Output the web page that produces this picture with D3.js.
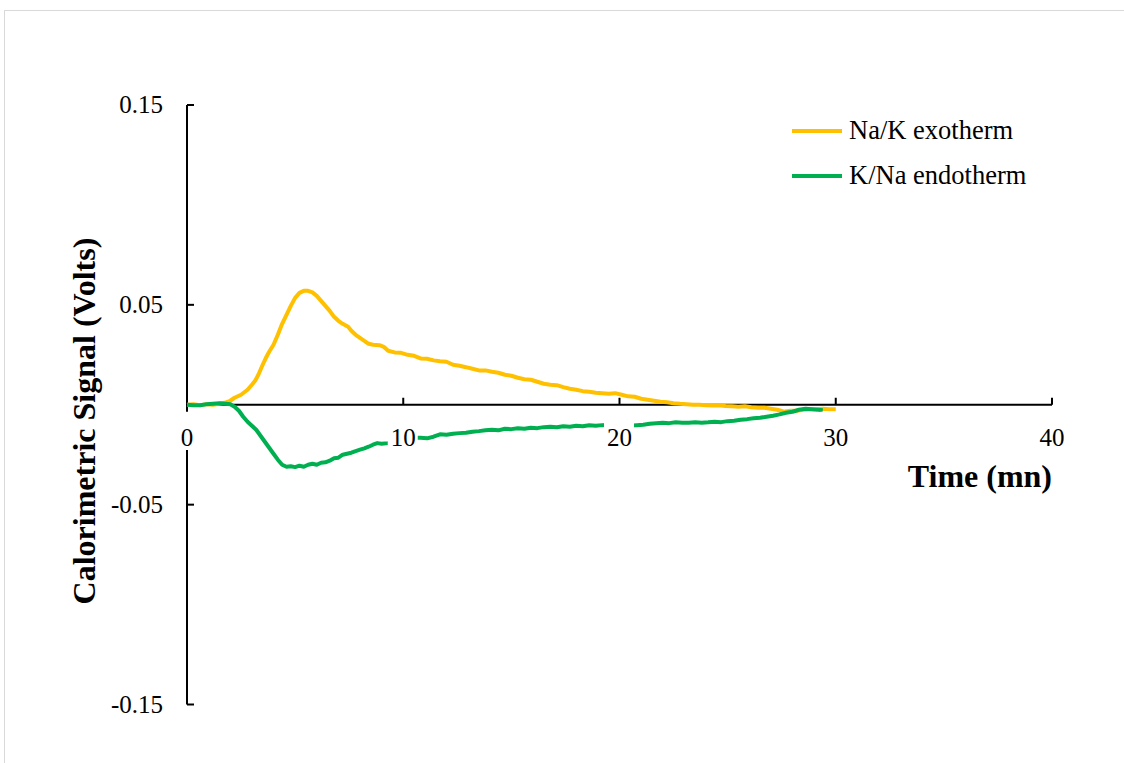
<!DOCTYPE html>
<html>
<head>
<meta charset="utf-8">
<script src="https://cdn.jsdelivr.net/npm/d3@7"></script>
<style>
  html, body { margin: 0; padding: 0; background: #fff; }
  svg { display: block; }
  text { font-family: "Liberation Serif", "Times New Roman", serif; }
</style>
</head>
<body>
<svg id="chart" width="1124" height="763"></svg>
<script>
// ---- data ----
const seriesNames = ["Na/K exotherm", "K/Na endotherm"];
const seriesColors = ["#FFC000", "#00B050"];
const xTicks = [0, 10, 20, 30, 40];
const yTicks = [0.15, 0.05, -0.05, -0.15];
const yTickLabels = ["0.15", "0.05", "-0.05", "-0.15"];
const xTitle = "Time (mn)";
const yTitle = "Calorimetric Signal (Volts)";

const exoTime = [0,0.3,0.6,0.9,1.2,1.5,1.8,2.0,2.2,2.5,2.8,3.0,3.15,3.3,3.5,3.65,3.8,4.0,4.2,4.4,4.6,4.8,5.0,5.2,5.4,5.6,5.8,6.0,6.2,6.4,6.6,6.8,7.0,7.2,7.45,7.6,7.8,8.0,8.2,8.4,8.6,8.9,9.1,9.3,9.6,9.9,10.2,10.5,10.8,11.1,11.4,11.7,12.0,12.3,12.6,12.9,13.2,13.5,13.8,14.1,14.4,14.7,15.0,15.3,15.6,15.9,16.2,16.5,16.8,17.1,17.4,17.7,18.0,18.3,18.6,18.9,19.2,19.5,19.8,20.1,20.4,20.7,21.0,21.3,21.6,21.9,22.2,22.5,22.8,23.1,23.4,23.7,24.0,24.3,24.6,24.9,25.2,25.5,25.8,26.1,26.4,26.7,27.0,27.3,27.6,27.9,28.2,28.5,28.8,29.1,29.4,29.7,30.0];
const exoSignal = [0.0000,0.0002,-0.0003,0.0003,0.0000,0.0005,0.0012,0.0020,0.0035,0.0050,0.0075,0.0100,0.0120,0.0150,0.0200,0.0235,0.0265,0.0300,0.0350,0.0405,0.0450,0.0495,0.0535,0.0560,0.0570,0.0570,0.0562,0.0545,0.0520,0.0495,0.0470,0.0440,0.0420,0.0405,0.0390,0.0370,0.0350,0.0335,0.0320,0.0305,0.0300,0.0298,0.0290,0.0270,0.0262,0.0260,0.0250,0.0245,0.0232,0.0230,0.0222,0.0218,0.0215,0.0200,0.0195,0.0188,0.0180,0.0172,0.0172,0.0165,0.0160,0.0150,0.0145,0.0135,0.0128,0.0125,0.0115,0.0105,0.0100,0.0098,0.0088,0.0080,0.0075,0.0068,0.0065,0.0060,0.0058,0.0055,0.0058,0.0050,0.0042,0.0040,0.0030,0.0025,0.0020,0.0015,0.0012,0.0008,0.0005,0.0003,0.0000,0.0000,-0.0002,-0.0004,-0.0002,-0.0006,-0.0008,-0.0010,-0.0008,-0.0012,-0.0015,-0.0015,-0.0020,-0.0025,-0.0035,-0.0030,-0.0030,-0.0025,-0.0022,-0.0022,-0.0020,-0.0022,-0.0022];

const endoTime = [0,0.3,0.6,0.9,1.2,1.5,1.8,2.0,2.2,2.4,2.6,2.8,3.0,3.2,3.4,3.6,3.8,4.0,4.2,4.4,4.6,4.8,5.0,5.2,5.4,5.6,5.8,6.0,6.2,6.4,6.6,6.8,7.0,7.2,7.4,7.6,7.8,8.0,8.2,8.4,8.6,8.8,9.0,9.3,9.6,9.9,10.2,10.5,10.8,11.1,11.4,11.7,12.0,12.3,12.6,12.9,13.2,13.5,13.8,14.1,14.4,14.7,15.0,15.3,15.6,15.9,16.2,16.5,16.8,17.1,17.4,17.7,18.0,18.3,18.6,18.9,19.2,19.5,20.0,20.5,20.8,21.1,21.4,21.7,22.0,22.3,22.6,22.9,23.2,23.5,23.8,24.1,24.4,24.7,25.0,25.3,25.6,25.9,26.2,26.5,26.8,27.1,27.4,27.7,28.0,28.3,28.6,28.9,29.2,29.4];
const endoSignal = [0.0000,-0.0003,-0.0002,0.0002,0.0005,0.0008,0.0005,0.0002,-0.0010,-0.0030,-0.0060,-0.0085,-0.0105,-0.0125,-0.0155,-0.0185,-0.0215,-0.0245,-0.0275,-0.0300,-0.0310,-0.0308,-0.0312,-0.0305,-0.0310,-0.0300,-0.0295,-0.0300,-0.0290,-0.0288,-0.0280,-0.0268,-0.0265,-0.0250,-0.0245,-0.0240,-0.0232,-0.0225,-0.0218,-0.0210,-0.0200,-0.0192,-0.0195,-0.0192,-0.0185,-0.0180,-0.0172,-0.0165,-0.0165,-0.0168,-0.0160,-0.0148,-0.0150,-0.0145,-0.0142,-0.0140,-0.0135,-0.0132,-0.0128,-0.0125,-0.0128,-0.0120,-0.0122,-0.0118,-0.0120,-0.0115,-0.0117,-0.0112,-0.0110,-0.0113,-0.0108,-0.0110,-0.0105,-0.0108,-0.0103,-0.0105,-0.0102,-0.0100,-0.0100,-0.0105,-0.0102,-0.0100,-0.0095,-0.0092,-0.0090,-0.0092,-0.0088,-0.0090,-0.0090,-0.0088,-0.0090,-0.0088,-0.0085,-0.0087,-0.0082,-0.0080,-0.0075,-0.0072,-0.0068,-0.0065,-0.0060,-0.0055,-0.0048,-0.0040,-0.0035,-0.0025,-0.0020,-0.0022,-0.0025,-0.0028];

// ---- drawing ----
const svg = d3.select("#chart");

// outer frame
svg.append("rect").attr("x", 4.5).attr("y", 10.5).attr("width", 1130).attr("height", 770)
  .attr("fill", "#fff").attr("stroke", "#d9d9d9").attr("stroke-width", 1);

const x = d3.scaleLinear().domain([0, 40]).range([187, 1052]);
const y = d3.scaleLinear().domain([-0.15, 0.15]).range([704.5, 105]);
const y0 = y(0);

// axes lines
const axisG = svg.append("g");
axisG.append("line").attr("x1", x(0)).attr("x2", x(0)).attr("y1", y(0.15)).attr("y2", y(-0.15))
  .attr("stroke", "#000").attr("stroke-width", 2);
axisG.append("line").attr("x1", x(0)).attr("x2", x(40)).attr("y1", y0).attr("y2", y0)
  .attr("stroke", "#000").attr("stroke-width", 2);
axisG.selectAll(".yt").data(yTicks).enter().append("line")
  .attr("x1", x(0)).attr("x2", x(0) + 7).attr("y1", d => y(d)).attr("y2", d => y(d))
  .attr("stroke", "#000").attr("stroke-width", 2);
axisG.selectAll(".xt").data(xTicks.filter(d => d !== 0)).enter().append("line")
  .attr("x1", d => x(d)).attr("x2", d => x(d)).attr("y1", y0).attr("y2", y0 - 7)
  .attr("stroke", "#000").attr("stroke-width", 2);

// series
const line = d3.line().x(d => x(d[0])).y(d => y(d[1]));
const series = [d3.zip(exoTime, exoSignal), d3.zip(endoTime, endoSignal)];
series.forEach((s, i) => {
  svg.append("path").datum(s).attr("d", line)
    .attr("fill", "none").attr("stroke", seriesColors[i]).attr("stroke-width", 4)
    .attr("stroke-linejoin", "round").attr("stroke-linecap", "butt");
});

// x tick labels with white background boxes
const xLab = svg.append("g");
xTicks.forEach(t => {
  const g = xLab.append("g");
  const bg = g.append("rect").attr("fill", "#fff");
  const txt = g.append("text").attr("x", x(t)).attr("y", 446)
    .attr("text-anchor", "middle").attr("font-size", 25)
    .attr("fill", "#000").text(String(t));
  const bb = txt.node().getBBox();
  const top = y0 + 7;
  bg.attr("x", bb.x - 3).attr("y", top).attr("width", bb.width + 5).attr("height", 450 - top);
});

// y tick labels
svg.append("g").selectAll("text").data(yTicks).enter().append("text")
  .attr("x", 163).attr("y", d => y(d) + 8)
  .attr("text-anchor", "end").attr("font-size", 25)
  .attr("fill", "#000").text((d, i) => yTickLabels[i]);

// axis titles
svg.append("text").attr("x", 1052).attr("y", 487).attr("text-anchor", "end")
  .attr("font-size", 32).attr("font-weight", "bold")
  .attr("fill", "#000").text(xTitle);
svg.append("text").attr("transform", "translate(95,421) rotate(-90)").attr("text-anchor", "middle")
  .attr("font-size", 32).attr("font-weight", "bold")
  .attr("fill", "#000").text(yTitle);

// legend
const legY = [131, 176];
seriesNames.forEach((n, i) => {
  svg.append("line").attr("x1", 792).attr("x2", 842).attr("y1", legY[i]).attr("y2", legY[i])
    .attr("stroke", seriesColors[i]).attr("stroke-width", 4);
  svg.append("text").attr("x", 849).attr("y", legY[i] + 8)
    .attr("font-size", 26.5).attr("fill", "#000").text(n);
});
</script>
</body>
</html>
